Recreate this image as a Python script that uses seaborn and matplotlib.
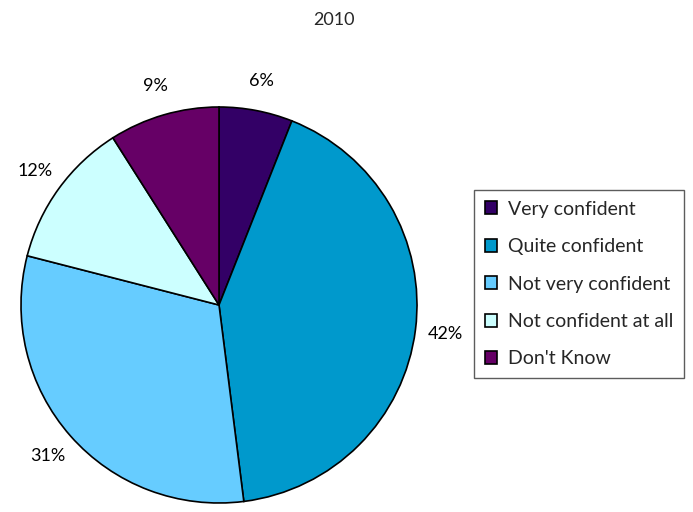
import matplotlib
matplotlib.use("Agg")
import matplotlib.pyplot as plt
import seaborn as sns

categories = ["Very confident", "Quite confident", "Not very confident",
              "Not confident at all", "Don't Know"]
shares = [6, 42, 31, 12, 9]
colors = ["#330066", "#0099CC", "#66CCFF", "#CCFFFF", "#660066"]
title = "2010"

sns.set_theme(style="white")
plt.rcParams["font.family"] = ["Lato", "DejaVu Sans"]

fig = plt.figure(figsize=(6.93, 5.12), dpi=100)
ax = fig.add_axes([21 / 693, 9 / 512, 396 / 693, 396 / 512])

wedges, texts, autotexts = ax.pie(
    shares,
    colors=colors,
    startangle=90,
    counterclock=False,
    radius=1.0,
    autopct=lambda p: f"{p:.0f}%",
    pctdistance=1.15,
    wedgeprops=dict(edgecolor="black", linewidth=1.2),
    textprops=dict(fontsize=13, color="black"),
)
ax.set_xlim(-1.0, 1.0)
ax.set_ylim(-1.0, 1.0)
ax.set_aspect("equal")
ax.axis("off")

fig.text(334 / 693, 1 - 20 / 512, title, ha="center", va="center", fontsize=13)

leg = fig.legend(
    wedges, categories,
    loc="upper left",
    bbox_to_anchor=(474 / 693, 1 - 190 / 512),
    borderaxespad=0,
    fancybox=False,
    frameon=True,
    edgecolor="#333333",
    fontsize=14,
    handlelength=0.65,
    handleheight=0.65,
    handletextpad=0.55,
    labelspacing=1.05,
    borderpad=0.55,
)
leg.get_frame().set_linewidth(1.0)

fig.savefig("out.png", dpi=100)
